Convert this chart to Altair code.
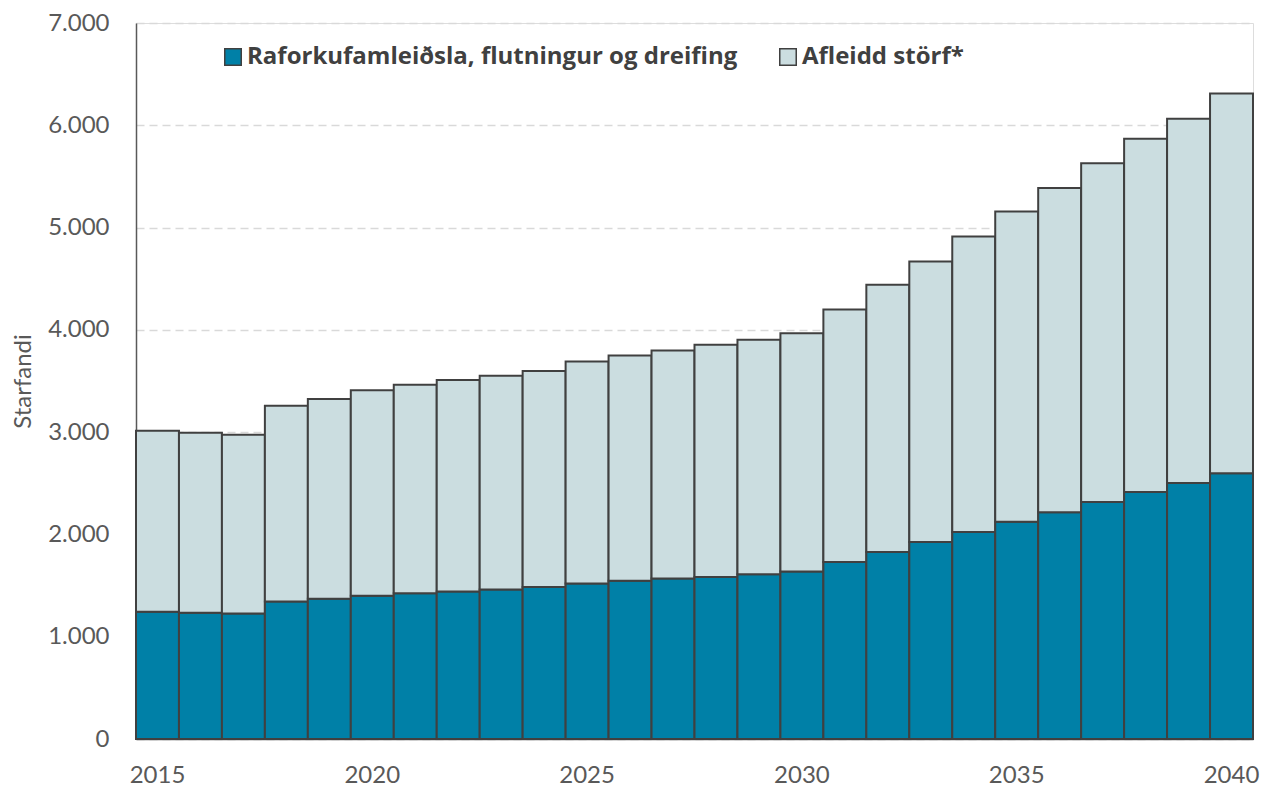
import altair as alt
import pandas as pd

years = list(range(2015, 2041))
series_names = ["Raforkufamleiðsla, flutningur og dreifing", "Afleidd störf*"]
direct = [1244, 1235, 1228, 1345, 1371, 1400, 1426, 1442, 1462, 1485, 1520, 1546, 1569,
          1585, 1611, 1637, 1731, 1829, 1926, 2023, 2124, 2218, 2318, 2416, 2503, 2598]
indirect = [1770, 1759, 1747, 1912, 1954, 2009, 2038, 2068, 2090, 2113, 2171, 2204, 2230,
            2269, 2292, 2331, 2469, 2612, 2743, 2889, 3032, 3168, 3311, 3453, 3561, 3713]
x_tick_years = [2015, 2020, 2025, 2030, 2035, 2040]
y_ticks = [0, 1000, 2000, 3000, 4000, 5000, 6000, 7000]
colors = ["#0080A7", "#CBDDE0"]

rows = []
for i, y in enumerate(years):
    rows.append({"year": y, "series": series_names[0], "value": direct[i], "ord": 0})
    rows.append({"year": y, "series": series_names[1], "value": indirect[i], "ord": 1})
df = pd.DataFrame(rows)

FONT = "Lato"
GRAY = "#595959"

chart = alt.Chart(df).mark_bar(stroke="#404040", strokeWidth=2).encode(
    x=alt.X("year:O",
            scale=alt.Scale(paddingInner=0, paddingOuter=0),
            axis=alt.Axis(values=x_tick_years, labelAngle=0, ticks=False, title=None,
                          labelFont=FONT, labelFontSize=24, labelColor=GRAY,
                          labelPadding=24, domainColor=GRAY, domainWidth=1.5)),
    y=alt.Y("value:Q", stack="zero",
            scale=alt.Scale(domain=[0, 7000], nice=False),
            axis=alt.Axis(values=y_ticks, ticks=False, title="Starfandi",
                          labelExpr="replace(format(datum.value, ','), ',', '.')",
                          labelFont=FONT, labelFontSize=24, labelColor=GRAY,
                          labelPadding=27, domainColor=GRAY, domainWidth=1.5,
                          grid=True, gridColor="#D9D9D9", gridDash=[8, 5], gridWidth=1.3,
                          titleFont=FONT, titleFontSize=24, titleFontWeight="normal",
                          titleColor=GRAY, titleX=-101, titleY=358, titleAngle=270,
                          titleAlign="center", titleBaseline="bottom")),
    color=alt.Color("series:N",
                    scale=alt.Scale(domain=series_names, range=colors),
                    legend=alt.Legend(title=None, orient="none", direction="horizontal",
                                      legendX=85, legendY=22, symbolType="square",
                                      symbolSize=272, symbolStrokeColor="#404040",
                                      symbolStrokeWidth=1.5, symbolOpacity=1,
                                      labelFont="Open Sans", labelFontSize=24,
                                      labelFontWeight="bold",
                                      labelColor="#404040", labelOffset=2,
                                      columnPadding=38, labelLimit=800, padding=0)),
    order=alt.Order("ord:Q", sort="ascending"),
).properties(
    width=1117,
    height=716,
    autosize=alt.AutoSizeParams(type="none"),
    padding={"left": 128, "top": 15, "right": 9, "bottom": 50},
).configure_view(stroke=None).configure(background="white")

chart.save("out.html", embed_options={"renderer": "svg", "actions": False})
